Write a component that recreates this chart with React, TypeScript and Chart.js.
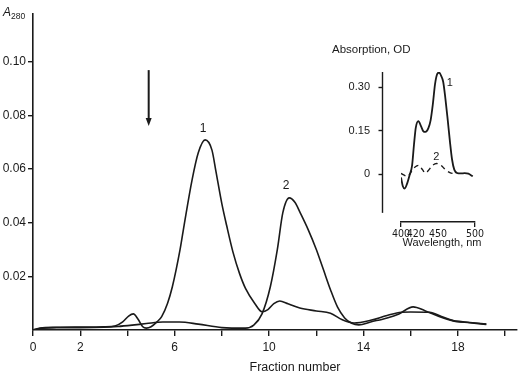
import React, { useEffect, useRef } from "react";
import { Chart, registerables } from "chart.js";

Chart.register(...registerables);

// ---------- main chromatogram data ----------
const FRACTION_1 = [0, 0.3, 1.0, 2.0, 3.0, 3.5, 3.8, 4.05, 4.25, 4.45, 4.65, 4.8, 5.0, 5.25, 5.45, 5.7, 5.9, 6.23, 6.4, 6.74, 7.0, 7.29, 7.58, 7.75, 8.0, 8.2, 8.47, 8.75, 9.0, 9.4, 9.7, 9.95, 10.2, 10.45, 10.8, 11.3, 12.0, 12.6, 13.1, 13.6, 14.3, 15.0, 15.6, 16.0, 16.8, 17.3, 17.8, 18.5, 19.2];
const A280_1 = [0, 0.0007, 0.001, 0.0011, 0.0012, 0.0016, 0.003, 0.0052, 0.006, 0.004, 0.0012, 0.0007, 0.0012, 0.003, 0.005, 0.01, 0.016, 0.03, 0.039, 0.056, 0.066, 0.0708, 0.067, 0.059, 0.047, 0.039, 0.029, 0.021, 0.0155, 0.0098, 0.0068, 0.0076, 0.0098, 0.0108, 0.0098, 0.0082, 0.0071, 0.0062, 0.0038, 0.0026, 0.0036, 0.0054, 0.0066, 0.0067, 0.0066, 0.005, 0.0035, 0.0028, 0.0022];

const FRACTION_2 = [0, 0.4, 1.0, 2.0, 3.0, 3.6, 4.2, 4.8, 5.5, 6.2, 7.0, 8.0, 9.0, 9.35, 9.7, 10.05, 10.35, 10.58, 10.85, 11.1, 11.3, 11.65, 12.0, 12.3, 12.6, 12.9, 13.2, 13.5, 13.8, 14.3, 15.0, 15.5, 16.1, 16.6, 17.2, 17.8, 18.5, 19.2];
const A280_2 = [0, 0.0007, 0.0009, 0.0009, 0.001, 0.0013, 0.0018, 0.0024, 0.003, 0.003, 0.0022, 0.0009, 0.0007, 0.0018, 0.006, 0.016, 0.03, 0.0436, 0.0492, 0.0475, 0.044, 0.0375, 0.03, 0.0225, 0.015, 0.0085, 0.0045, 0.0025, 0.0019, 0.003, 0.0045, 0.006, 0.0086, 0.0072, 0.005, 0.0034, 0.0027, 0.0021];

const X_TICKS = [0, 2, 4, 6, 8, 10, 12, 14, 16, 18, 20];
const X_LABELS = [0, 2, 6, 10, 14, 18];
const Y_TICKS = [0.02, 0.04, 0.06, 0.08, 0.1];
const X_RANGE = [0, 20.5];
const Y_RANGE = [0, 0.1177];

const PEAK_LABELS = ["1", "2"];
const PEAK_LABEL_X = [7.2, 10.72];
const PEAK_LABEL_Y = [0.0749, 0.0536];

const ARROW_X = 4.9;
const ARROW_FROM = 0.0968;
const ARROW_TO = 0.076;

// ---------- inset absorption spectra ----------
const WL_1 = [400, 402.5, 405, 408, 411.5, 415, 417.5, 420, 423.5, 427, 430, 433, 437, 440, 443, 446, 449, 451.5, 454, 457, 460, 463, 466, 469, 472, 476, 481, 486, 491, 497];
const OD_1 = [-0.012, -0.042, -0.05, -0.035, -0.005, 0.03, 0.1, 0.16, 0.182, 0.165, 0.148, 0.145, 0.158, 0.185, 0.24, 0.31, 0.345, 0.35, 0.34, 0.318, 0.26, 0.19, 0.115, 0.05, 0.015, 0.003, 0.002, 0.003, 0.001, -0.008];

const WL_2 = [400, 405, 409, 414, 419, 424, 429, 433, 437, 442, 448, 454, 460, 466, 472];
const OD_2 = [0.002, -0.005, -0.008, 0.008, 0.024, 0.03, 0.015, 0.003, 0.012, 0.028, 0.036, 0.03, 0.015, 0.005, 0.001];

const INSET_X_TICKS = [400, 420, 450, 500];
const INSET_Y_TICKS = [0, 0.15, 0.3];
const INSET_X_RANGE = [400, 500];
const INSET_Y_RANGE = [-0.1655, 0.3517];
const INSET_Y_AXIS_END = -0.134;

const INSET_LABELS = ["1", "2"];
const INSET_LABEL_X = [465.9, 447.7];
const INSET_LABEL_Y = [0.314, 0.06];

const INK = "#1a1a1a";
const FONT = "'Liberation Sans', Arial, Helvetica, sans-serif";
const NARROW = "'Liberation Sans Narrow', 'DejaVu Sans Condensed', 'Liberation Sans', sans-serif";

const toPoints = (xs: number[], ys: number[]) => xs.map((x, i) => ({ x, y: ys[i] }));

const mainPlugin = {
  id: "mainDecor",
  afterDatasetsDraw(chart: any) {
    const { ctx, chartArea } = chart;
    const x = chart.scales.x;
    const y = chart.scales.y;
    ctx.save();
    ctx.fillStyle = INK;
    ctx.strokeStyle = INK;
    ctx.font = `12px ${FONT}`;
    ctx.textAlign = "center";
    ctx.textBaseline = "middle";
    PEAK_LABELS.forEach((t, i) => {
      ctx.fillText(t, x.getPixelForValue(PEAK_LABEL_X[i]), y.getPixelForValue(PEAK_LABEL_Y[i]));
    });
    const ax = x.getPixelForValue(ARROW_X);
    const ay0 = y.getPixelForValue(ARROW_FROM);
    const ay1 = y.getPixelForValue(ARROW_TO);
    ctx.lineWidth = 2;
    ctx.beginPath();
    ctx.moveTo(ax, ay0);
    ctx.lineTo(ax, ay1 - 6);
    ctx.stroke();
    ctx.beginPath();
    ctx.moveTo(ax - 3, ay1 - 8);
    ctx.lineTo(ax + 3, ay1 - 8);
    ctx.lineTo(ax, ay1);
    ctx.closePath();
    ctx.fill();
    ctx.textAlign = "left";
    ctx.textBaseline = "alphabetic";
    ctx.font = `italic 12px ${FONT}`;
    ctx.fillText("A", chartArea.left - 30, chartArea.top + 2);
    ctx.font = `8.5px ${FONT}`;
    ctx.fillText("280", chartArea.left - 22, chartArea.top + 5);
    ctx.font = `12.5px ${FONT}`;
    ctx.textAlign = "center";
    ctx.textBaseline = "middle";
    ctx.fillText("Fraction number", (chartArea.left + chartArea.right) / 2 + 20, chartArea.bottom + 38);
    ctx.restore();
  },
};

const insetPlugin = {
  id: "insetDecor",
  afterDatasetsDraw(chart: any) {
    const { ctx, chartArea } = chart;
    const x = chart.scales.x;
    const y = chart.scales.y;
    ctx.save();
    ctx.strokeStyle = INK;
    ctx.fillStyle = INK;
    const axX = Math.round(chartArea.left - 19) + 0.5;
    ctx.lineWidth = 1.4;
    ctx.beginPath();
    ctx.moveTo(axX, y.getPixelForValue(INSET_Y_RANGE[1]));
    ctx.lineTo(axX, y.getPixelForValue(INSET_Y_AXIS_END));
    ctx.stroke();
    INSET_Y_TICKS.forEach((v) => {
      const py = Math.round(y.getPixelForValue(v)) + 0.5;
      ctx.beginPath();
      ctx.moveTo(axX - 4, py);
      ctx.lineTo(axX, py);
      ctx.stroke();
    });
    ctx.font = `11px ${FONT}`;
    ctx.textAlign = "center";
    ctx.textBaseline = "middle";
    INSET_LABELS.forEach((t, i) => {
      ctx.fillText(t, x.getPixelForValue(INSET_LABEL_X[i]), y.getPixelForValue(INSET_LABEL_Y[i]));
    });
    ctx.font = `11.5px ${FONT}`;
    ctx.textAlign = "left";
    ctx.fillText("Absorption, OD", chartArea.left - 69, chartArea.top - 22);
    ctx.font = `11px ${FONT}`;
    ctx.textAlign = "center";
    ctx.fillText("Wavelength, nm", (chartArea.left + chartArea.right) / 2 + 4, chartArea.bottom + 21);
    ctx.restore();
  },
};

export default function App() {
  const mainRef = useRef<HTMLCanvasElement | null>(null);
  const insetRef = useRef<HTMLCanvasElement | null>(null);

  useEffect(() => {
    const main = new Chart(mainRef.current as HTMLCanvasElement, {
      type: "line",
      data: {
        datasets: [
          { data: toPoints(FRACTION_1, A280_1), borderColor: INK, borderWidth: 1.6, pointRadius: 0, cubicInterpolationMode: "monotone", fill: false },
          { data: toPoints(FRACTION_2, A280_2), borderColor: INK, borderWidth: 1.6, pointRadius: 0, cubicInterpolationMode: "monotone", fill: false },
        ],
      },
      options: {
        animation: false,
        responsive: false,
        events: [],
        layout: { padding: { left: 0, top: 14, right: 6, bottom: 0 } },
        plugins: { legend: { display: false }, tooltip: { enabled: false } },
        scales: {
          x: {
            type: "linear",
            min: X_RANGE[0],
            max: X_RANGE[1],
            afterBuildTicks: (s: any) => { s.ticks = X_TICKS.map((v) => ({ value: v })); },
            afterFit: (s: any) => { s.height = 49; },
            grid: { display: true, drawOnChartArea: false, drawTicks: true, tickLength: 6, color: INK, lineWidth: 1.4 },
            border: { display: true, color: INK, width: 1.6 },
            ticks: {
              autoSkip: false, maxRotation: 0, padding: 4, color: INK,
              font: { family: FONT, size: 12 },
              callback: (v: any) => (X_LABELS.includes(Number(v)) ? String(v) : ""),
            },
          },
          y: {
            type: "linear",
            min: Y_RANGE[0],
            max: Y_RANGE[1],
            afterBuildTicks: (s: any) => { s.ticks = Y_TICKS.map((v) => ({ value: v })); },
            afterFit: (s: any) => { s.width = 33; },
            grid: { display: true, drawOnChartArea: false, drawTicks: true, tickLength: 5, color: INK, lineWidth: 1.4 },
            border: { display: true, color: INK, width: 1.6 },
            ticks: {
              padding: 2, color: INK,
              font: { family: FONT, size: 12 },
              callback: (v: any) => Number(v).toFixed(2),
            },
          },
        },
      },
      plugins: [mainPlugin],
    } as any);

    const inset = new Chart(insetRef.current as HTMLCanvasElement, {
      type: "line",
      data: {
        datasets: [
          { data: toPoints(WL_1, OD_1), borderColor: INK, borderWidth: 1.8, pointRadius: 0, cubicInterpolationMode: "monotone", fill: false },
          { data: toPoints(WL_2, OD_2), borderColor: INK, borderWidth: 1.4, borderDash: [5, 4], pointRadius: 0, cubicInterpolationMode: "monotone", fill: false },
        ],
      },
      options: {
        animation: false,
        responsive: false,
        events: [],
        layout: { padding: { left: 0, top: 42, right: 45, bottom: 0 } },
        plugins: { legend: { display: false }, tooltip: { enabled: false } },
        scales: {
          x: {
            type: "linear",
            min: INSET_X_RANGE[0],
            max: INSET_X_RANGE[1],
            afterBuildTicks: (s: any) => { s.ticks = INSET_X_TICKS.map((v) => ({ value: v })); },
            afterFit: (s: any) => { s.height = 38; },
            grid: {
              display: true, drawOnChartArea: false, drawTicks: true, tickLength: 5, lineWidth: 1.3,
              color: (c: any) => (c.tick && (c.tick.value === 400 || c.tick.value === 500) ? INK : "rgba(0,0,0,0)"),
            },
            border: { display: true, color: INK, width: 1.4 },
            ticks: {
              autoSkip: false, maxRotation: 0, padding: 1, color: INK,
              font: { family: NARROW, size: 10.5 },
              callback: (v: any) => String(v),
            },
          },
          y: {
            type: "linear",
            min: INSET_Y_RANGE[0],
            max: INSET_Y_RANGE[1],
            afterBuildTicks: (s: any) => { s.ticks = INSET_Y_TICKS.map((v) => ({ value: v })); },
            afterFit: (s: any) => { s.width = 81; },
            grid: { display: false, drawTicks: false },
            border: { display: false },
            ticks: {
              padding: 31, color: INK,
              font: { family: FONT, size: 11 },
              callback: (v: any) => (Number(v) === 0 ? "0" : Number(v).toFixed(2)),
            },
          },
        },
      },
      plugins: [insetPlugin],
    } as any);

    return () => {
      main.destroy();
      inset.destroy();
    };
  }, []);

  return (
    <div style={{ position: "fixed", left: 0, top: 0, width: 523, height: 379, background: "#fff" }}>
      <canvas ref={mainRef} width={523} height={379} style={{ position: "absolute", left: 0, top: 0, width: 523, height: 379 }} />
      <canvas ref={insetRef} width={200} height={230} style={{ position: "absolute", left: 320, top: 30, width: 200, height: 230 }} />
    </div>
  );
}
